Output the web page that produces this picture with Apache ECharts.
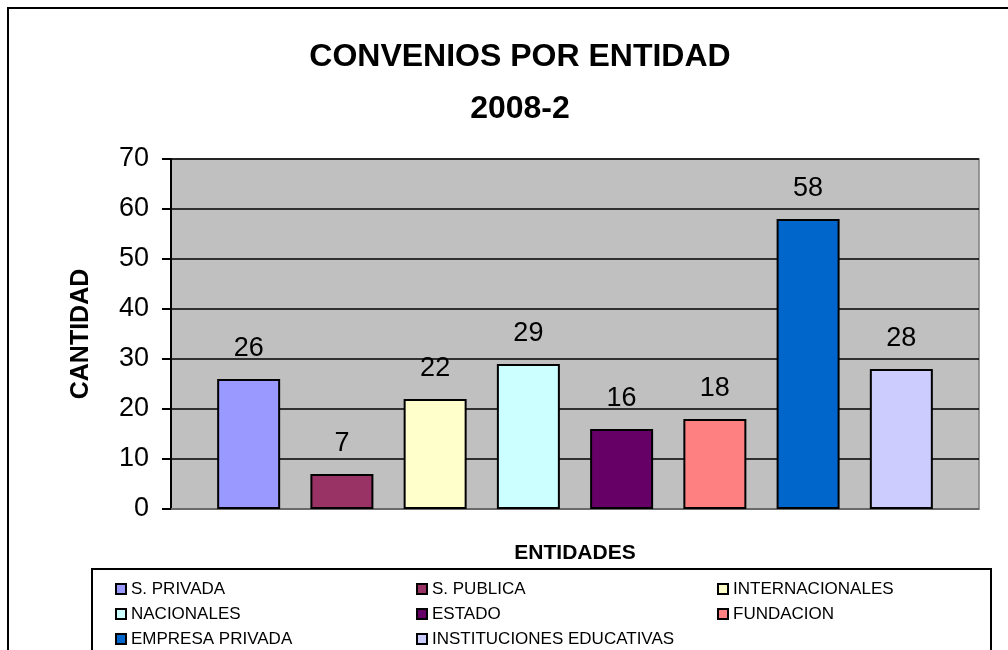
<!DOCTYPE html>
<html>
<head>
<meta charset="utf-8">
<script src="https://cdn.jsdelivr.net/npm/echarts@6/dist/echarts.min.js"></script>
<style>
  html, body { margin: 0; padding: 0; background: #fff; }
  #chart { width: 1008px; height: 650px; }
</style>
</head>
<body>
<div id="chart"></div>
<script>
// entidades y cantidad de convenios (2008-2)
var entidades = ["S. PRIVADA", "S. PUBLICA", "INTERNACIONALES", "NACIONALES",
  "ESTADO", "FUNDACION", "EMPRESA PRIVADA", "INSTITUCIONES EDUCATIVAS"];
var cantidad = [26, 7, 22, 29, 16, 18, 58, 28];
var colores = ["#9999FF", "#993366", "#FFFFCC", "#CCFFFF",
  "#660066", "#FF8080", "#0066CC", "#CCCCFF"];
var yTicks = [0, 10, 20, 30, 40, 50, 60, 70];

var chart = echarts.init(document.getElementById("chart"));

var series = entidades.map(function (name, i) {
  return {
    name: name,
    type: "bar",
    data: [cantidad[i]],
    barWidth: 63,
    barGap: "48%",
    itemStyle: { color: colores[i], borderColor: "#000", borderWidth: 2 },
    label: {
      show: true,
      position: "top",
      distance: 17,
      color: "#000",
      fontFamily: "Liberation Sans, Arial, sans-serif",
      fontSize: 27
    }
  };
});

var option = {
  backgroundColor: "#fff",
  animation: false,
  color: colores,
  title: {
    text: "CONVENIOS POR ENTIDAD\n2008-2",
    left: 515,
    top: 26,
    textAlign: "center",
    textStyle: {
      fontFamily: "Liberation Sans, Arial, sans-serif",
      fontWeight: "bold",
      fontSize: 32,
      lineHeight: 52,
      color: "#000"
    }
  },
  graphic: [
    { type: "rect", shape: { x: 8, y: 8, width: 1010, height: 660 },
      style: { fill: null, stroke: "#000", lineWidth: 2 }, silent: true },
    { type: "rect", shape: { x: 92, y: 569, width: 899, height: 100 },
      style: { fill: null, stroke: "#000", lineWidth: 2 }, silent: true }
  ],
  legend: {
    left: 110,
    top: 574,
    width: 900,
    orient: "horizontal",
    itemWidth: 10,
    itemHeight: 10,
    itemGap: 5,
    icon: "rect",
    data: entidades,
    textStyle: {
      fontFamily: "Liberation Sans, Arial, sans-serif",
      fontSize: 17,
      color: "#000",
      width: 280,
      lineHeight: 20
    }
  },
  grid: {
    left: 171,
    right: 29,
    top: 159,
    bottom: 141,
    show: true,
    backgroundColor: "#C0C0C0",
    borderColor: "#808080",
    borderWidth: 1.5
  },
  xAxis: {
    type: "category",
    data: [""],
    name: "ENTIDADES",
    nameLocation: "middle",
    nameGap: 34,
    nameTextStyle: {
      fontFamily: "Liberation Sans, Arial, sans-serif",
      fontWeight: "bold",
      fontSize: 21,
      color: "#000"
    },
    axisLine: { lineStyle: { color: "#808080", width: 1.5 } },
    axisTick: { show: false },
    axisLabel: { show: false }
  },
  yAxis: {
    type: "value",
    min: yTicks[0],
    max: yTicks[yTicks.length - 1],
    interval: 10,
    name: "CANTIDAD",
    nameLocation: "middle",
    nameGap: 77,
    nameTextStyle: {
      fontFamily: "Liberation Sans, Arial, sans-serif",
      fontWeight: "bold",
      fontSize: 25,
      color: "#000"
    },
    axisLine: { show: true, lineStyle: { color: "#000", width: 2 } },
    axisTick: { show: true, length: 9, lineStyle: { color: "#000", width: 2 } },
    axisLabel: {
      margin: 22,
      color: "#000",
      fontFamily: "Liberation Sans, Arial, sans-serif",
      fontSize: 27
    },
    splitLine: { show: true, lineStyle: { color: "#000", width: 1.5 } }
  },
  series: series
};

chart.setOption(option);
</script>
</body>
</html>
